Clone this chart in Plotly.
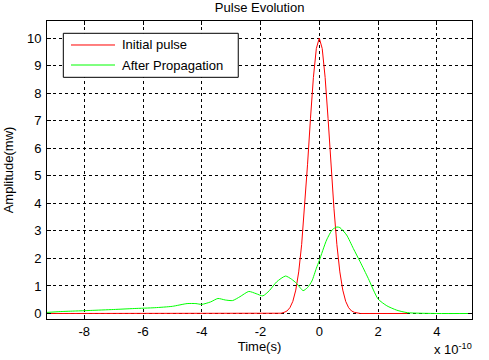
import plotly.graph_objects as go

# Time axis in units of 1e-10 s
red_t = [-9.27, -1.4, -1.3, -1.2, -1.1, -1.0, -0.9, -0.8, -0.7, -0.6, -0.5, -0.4, -0.3,
         -0.2, -0.1, 0.0, 0.1, 0.2, 0.3, 0.4, 0.5, 0.6, 0.7, 0.8, 0.9, 1.0, 1.1, 1.2,
         1.3, 1.4, 3.0]
red_y = [0, 0, 0.01, 0.04, 0.09, 0.21, 0.44, 0.85, 1.51, 2.5, 3.81, 5.4, 7.07,
         8.57, 9.62, 10.0, 9.62, 8.57, 7.07, 5.4, 3.81, 2.5, 1.51, 0.85, 0.44, 0.21, 0.09, 0.04,
         0.01, 0, 0]

green_t = [-9.27, -8.8, -8.3, -7.8, -7.0, -6.3, -5.6, -5.0, -4.5, -4.2, -4.0, -3.7,
           -3.45, -3.2, -2.95, -2.7, -2.4, -2.15, -1.92, -1.7, -1.45, -1.15, -0.95,
           -0.77, -0.55, -0.4, -0.25, -0.1, 0.0, 0.25, 0.45, 0.6, 0.7, 0.93, 1.16,
           1.39, 1.67, 2.0, 2.3, 2.64, 3.0, 4.0, 5.2]
green_y = [0.04, 0.07, 0.09, 0.11, 0.145, 0.18, 0.21, 0.26, 0.36, 0.36, 0.33, 0.42,
           0.545, 0.49, 0.47, 0.61, 0.80, 0.72, 0.64, 0.83, 1.15, 1.36, 1.25,
           1.09, 0.83, 0.94, 1.18, 1.64, 1.92, 2.67, 3.05, 3.14, 3.12, 2.85, 2.36,
           1.88, 1.27, 0.53, 0.28, 0.12, 0.03, 0.0, 0.0]

series_names = ["Initial pulse", "After Propagation"]
series_colors = ["#ff0000", "#00ff00"]

x_ticks = [-8, -6, -4, -2, 0, 2, 4]
x_tick_labels = ["-8", "-6", "-4", "-2", "0", "2", "4"]
y_ticks = [0, 1, 2, 3, 4, 5, 6, 7, 8, 9, 10]

FONT = "Liberation Sans, Arial, sans-serif"

fig = go.Figure()
fig.add_trace(go.Scatter(x=red_t, y=red_y, mode="lines", name=series_names[0],
                         showlegend=False,
                         line=dict(color=series_colors[0], width=1)))
fig.add_trace(go.Scatter(x=green_t, y=green_y, mode="lines", name=series_names[1],
                         showlegend=False,
                         line=dict(color=series_colors[1], width=1, shape="spline", smoothing=0.6)))

axis_common = dict(showline=True, linecolor="black", linewidth=1, mirror="ticks",
                   ticks="inside", ticklen=4, tickcolor="black", zeroline=False,
                   showgrid=True, gridcolor="black", gridwidth=1, griddash="3px,3px",
                   automargin=False,
                   tickfont=dict(family=FONT, size=13, color="black"))

# MATLAB-style boxed legend (paper coordinates)
leg_x0, leg_x1, leg_y0, leg_y1 = 0.0384, 0.450, 0.811, 0.9587
leg_rows = [0.9195, 0.8523]
shapes = [dict(type="rect", xref="paper", yref="paper", x0=leg_x0, x1=leg_x1,
               y0=leg_y0, y1=leg_y1, line=dict(color="black", width=1),
               fillcolor="white", layer="above")]
annotations = []
for name, color, yy in zip(series_names, series_colors, leg_rows):
    shapes.append(dict(type="line", xref="paper", yref="paper", x0=0.0565, x1=0.16,
                       y0=yy, y1=yy, line=dict(color=color, width=1), layer="above"))
    annotations.append(dict(text=name, xref="paper", yref="paper", x=0.172, y=yy,
                            xanchor="left", yanchor="middle", showarrow=False,
                            font=dict(family=FONT, size=13, color="black")))

annotations.append(dict(text="x 10<sup>-10</sup>", xref="paper", yref="paper",
                        x=0.905, y=-0.134, xanchor="left", yanchor="bottom",
                        showarrow=False, font=dict(family=FONT, size=13, color="black")))

fig.update_layout(
    width=489, height=360,
    margin=dict(l=47, r=17, t=21, b=41),
    paper_bgcolor="white", plot_bgcolor="white",
    font=dict(family=FONT, size=13, color="black"),
    title=dict(text="Pulse Evolution", x=0.531, xanchor="center", y=0.978, yanchor="middle",
               font=dict(family=FONT, size=13, color="black")),
    xaxis=dict(range=[-9.27, 5.2], tickvals=x_ticks, ticktext=x_tick_labels,
               ticklabelstandoff=0,
               title=dict(text="Time(s)", standoff=0, font=dict(family=FONT, size=13)),
               **axis_common),
    yaxis=dict(range=[-0.2, 10.62], tickvals=y_ticks, ticklabelstandoff=2,
               title=dict(text="Amplitude(mw)", standoff=10, font=dict(family=FONT, size=13)),
               **axis_common),
    showlegend=False,
    shapes=shapes,
    annotations=annotations,
)

fig.write_html("out.html", config={"displayModeBar": False},
               post_script="document.body.style.margin='0';")
